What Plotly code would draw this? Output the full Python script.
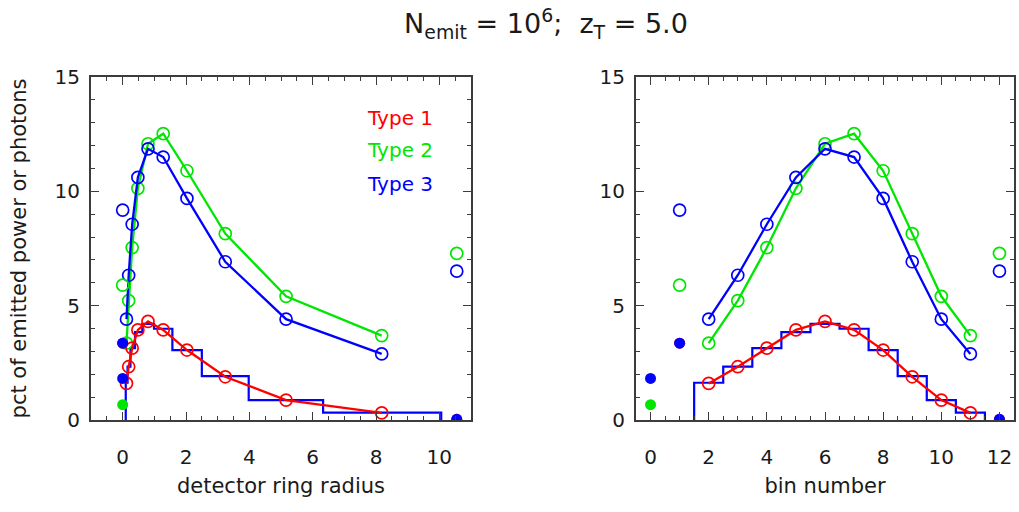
import plotly.graph_objects as go

# ---------------- data ----------------
bins = [2, 3, 4, 5, 6, 7, 8, 9, 10, 11]
radius = [0.12, 0.19, 0.30, 0.48, 0.80, 1.28, 2.03, 3.24, 5.16, 8.18]
type1 = [1.60, 2.33, 3.14, 3.94, 4.31, 3.94, 3.06, 1.89, 0.87, 0.31]
type2 = [3.36, 5.22, 7.54, 10.13, 12.08, 12.52, 10.90, 8.15, 5.41, 3.69]
type3 = [4.41, 6.33, 8.56, 10.61, 11.86, 11.50, 9.69, 6.92, 4.41, 2.89]

hist_vals = [1.63, 2.33, 3.14, 3.84, 4.20, 3.99, 3.06, 1.92, 0.87, 0.32]
hist_edges_radius = [0.097, 0.155, 0.246, 0.39, 0.62, 0.99, 1.57, 2.50, 3.98, 6.33, 10.06]
hist_edges_bin = [1.5, 2.5, 3.5, 4.5, 5.5, 6.5, 7.5, 8.5, 9.5, 10.5, 11.5]

# extra (unconnected) points: inner bins 0 and 1, overflow bin 12
x_bin0_bin, x_bin1_bin, x_bin12_bin = 0, 1, 12
x_bin0_rad, x_bin1_rad, x_bin12_rad = 0.0, 0.0, 10.55
bin0_type2_filled = 0.67
bin0_type3_filled = 1.82
bin1_type1_filled = 3.36
bin1_type3_filled = 3.36
bin1_type2_open = 5.90
bin1_type3_open = 9.18
bin12_type2_open = 7.29
bin12_type3_open = 6.51
bin12_type1_filled = 0.03
bin12_type3_filled = 0.03

legend_labels = ["Type 1", "Type 2", "Type 3"]

RED, GREEN, BLUE = "#ff0000", "#00e600", "#0000ff"
FONT = "DejaVu Sans, Arial, Helvetica, sans-serif"
TXT = "#1a1a1a"

fig = go.Figure()


def add_panel(xa, ya, xs, edges, x0, x1, x12):
    # histogram (step)
    fig.add_trace(go.Scatter(
        x=[edges[0]] + edges, y=[0] + hist_vals + [0],
        mode="lines", line=dict(color=BLUE, width=2.2, shape="hv"),
        xaxis=xa, yaxis=ya, showlegend=False, hoverinfo="skip"))
    # connected series
    for vals, col in ((type2, GREEN), (type3, BLUE), (type1, RED)):
        fig.add_trace(go.Scatter(
            x=xs, y=vals, mode="lines+markers",
            line=dict(color=col, width=2.3),
            marker=dict(symbol="circle-open", size=12, color=col, line=dict(width=1.7)),
            xaxis=xa, yaxis=ya, showlegend=False))
    # open extra points
    fig.add_trace(go.Scatter(
        x=[x1, x1, x12, x12],
        y=[bin1_type2_open, bin1_type3_open, bin12_type2_open, bin12_type3_open],
        mode="markers",
        marker=dict(symbol="circle-open", size=12,
                    color=[GREEN, BLUE, GREEN, BLUE], line=dict(width=1.7)),
        xaxis=xa, yaxis=ya, showlegend=False))
    # filled extra points
    fig.add_trace(go.Scatter(
        x=[x1, x12, x0, x0, x1, x12],
        y=[bin1_type1_filled, bin12_type1_filled, bin0_type2_filled,
           bin0_type3_filled, bin1_type3_filled, bin12_type3_filled],
        mode="markers",
        marker=dict(symbol="circle", size=11,
                    color=[RED, RED, GREEN, BLUE, BLUE, BLUE], line=dict(width=0)),
        xaxis=xa, yaxis=ya, showlegend=False))


add_panel("x", "y", radius, hist_edges_radius, x_bin0_rad, x_bin1_rad, x_bin12_rad)
add_panel("x2", "y2", bins, hist_edges_bin, x_bin0_bin, x_bin1_bin, x_bin12_bin)

for lab, col, yv in zip(legend_labels, (RED, GREEN, BLUE), (13.19, 11.79, 10.33)):
    fig.add_annotation(x=9.86, y=yv, xref="x", yref="y", text=lab, showarrow=False,
                       xanchor="right", yanchor="middle",
                       font=dict(family=FONT, size=20, color=col))

frame = "#3c3c3c"
common_x = dict(showline=True, linecolor=frame, linewidth=2, mirror="allticks",
                ticks="inside", ticklen=8, tickwidth=1.3, tickcolor=frame,
                minor=dict(ticks="inside", ticklen=4, dtick=0.5, tickwidth=1.3, tickcolor=frame),
                showgrid=False, zeroline=False, dtick=2, tick0=0,
                tickfont=dict(family=FONT, size=20, color=TXT),
                ticklabelstandoff=18, automargin=False)
common_y = dict(showline=True, linecolor=frame, linewidth=2, mirror="allticks",
                ticks="inside", ticklen=8, tickwidth=1.3, tickcolor=frame,
                minor=dict(ticks="inside", ticklen=4, dtick=1, tickwidth=1.3, tickcolor=frame),
                showgrid=False, zeroline=False, range=[0, 15], dtick=5, tick0=0,
                tickfont=dict(family=FONT, size=20, color=TXT),
                ticklabelstandoff=5, automargin=False)

fig.update_layout(
    width=1019, height=512,
    margin=dict(l=91, r=5, t=77, b=92),
    paper_bgcolor="white", plot_bgcolor="white",
    font=dict(family=FONT, color=TXT),
    showlegend=False,
    title=dict(text="N<sub>emit</sub> = 10<sup>6</sup>;&nbsp; z<sub>T</sub> = 5.0",
               x=546 / 1019, xanchor="center", xref="container",
               y=1 - 24 / 512, yanchor="middle", yref="container",
               font=dict(family=FONT, size=27, color=TXT)),
    xaxis=dict(common_x, domain=[0, 380 / 923], range=[-1, 11],
               title=dict(text="detector ring radius", standoff=10,
                          font=dict(family=FONT, size=21, color=TXT))),
    yaxis=dict(common_y, domain=[0, 1],
               title=dict(text="pct of emitted power or photons", standoff=22,
                          font=dict(family=FONT, size=21, color=TXT))),
    xaxis2=dict(common_x, domain=[545 / 923, 1.0], range=[-0.5, 12.5], anchor="y2",
                title=dict(text="bin number", standoff=10,
                           font=dict(family=FONT, size=21, color=TXT))),
    yaxis2=dict(common_y, domain=[0, 1], anchor="x2"),
)

fig.write_html("out.html")
